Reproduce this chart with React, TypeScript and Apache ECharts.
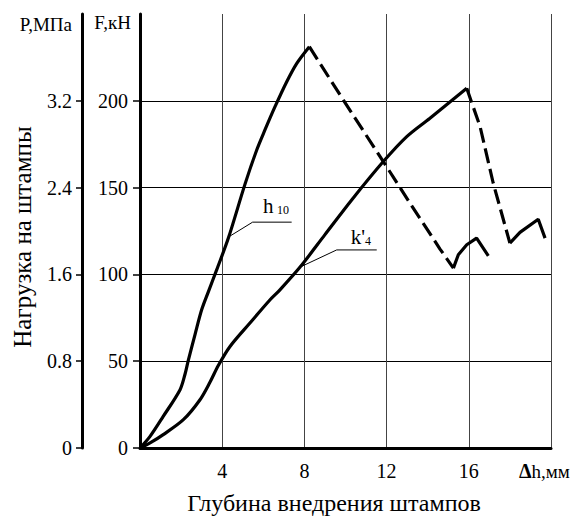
import React, { useEffect, useRef } from "react";
import * as echarts from "echarts";

// Depth, mm (x) and load F, kN (y)
const xTickLabels = [4, 8, 12, 16];
const fTickValues = [0, 50, 100, 150, 200];
const pTickValues = [0, 0.8, 1.6, 2.4, 3.2];

const h10Rise = [
  [0, 0], [0.49, 6.7], [1.13, 18.2], [1.95, 33.6], [2.19, 42.5], [2.35, 50.5],
  [2.68, 65.5], [3.0, 79.6], [3.32, 89.8], [3.73, 102.6], [4.3, 120.9],
  [5.11, 152.0], [5.68, 171.7], [6.08, 183.2], [6.57, 196.6], [7.14, 211.0],
  [7.63, 221.6], [8.24, 231.2],
];
const h10Fall = [[8.24, 231.2], [9.89, 200.5], [11.84, 165.0], [13.14, 141.0], [14.6, 114.6], [15.25, 103.6]];
const h10Tail = [[15.25, 103.6], [15.49, 111.3], [15.9, 117.1], [16.38, 120.9], [16.95, 110.7]];

const k4Rise = [
  [0, 0], [0.49, 2.9], [1.13, 7.7], [2.11, 16.3], [2.92, 27.8], [3.41, 38.0],
  [3.81, 47.5], [4.38, 58.5], [5.35, 72.0], [6.33, 85.4], [6.81, 91.1],
  [7.79, 104.2], [9.0, 122.9], [10.3, 142.9], [11.84, 165.0], [12.98, 179.4],
  [14.11, 190.0], [15.9, 207.2],
];
const k4Fall = [[15.9, 207.2], [16.55, 185.1], [17.19, 152.5], [18.0, 118.0]];
const k4Tail = [[18.0, 118.0], [18.49, 124.2], [19.38, 131.8], [19.71, 120.9]];

// Curve annotations (data units)
const h10Leader = [[4.3, 121.5], [5.48, 130.1], [7.38, 130.1]];
const h10LabelAt = [5.99, 139.5];
const k4Leader = [[7.79, 104.2], [9.57, 114.1], [11.52, 114.1]];
const k4LabelAt = [10.25, 121.6];

const FONT = "Times New Roman, Liberation Serif, DejaVu Serif, serif";

export default function App() {
  const ref = useRef<HTMLDivElement>(null);

  useEffect(() => {
    if (!ref.current) return;
    const chart = echarts.init(ref.current, undefined, { renderer: "svg" });

    const solid = { color: "#000", width: 3.2, type: "solid" as const };
    const dashed = { color: "#000", width: 3.2, type: [15, 6] as any, cap: "butt" as const };
    const mk = (name: string, data: number[][], lineStyle: any, smooth: any) => ({
      name,
      type: "line",
      data,
      symbol: "none",
      smooth,
      silent: true,
      lineStyle,
      z: 5,
    });

    chart.setOption({
      animation: false,
      backgroundColor: "#fff",
      textStyle: { fontFamily: FONT },
      grid: { left: 140, right: 26, top: 14, bottom: 68, containLabel: false, outerBoundsMode: "none" },
      xAxis: {
        type: "value",
        min: 0,
        max: 20,
        interval: 4,
        axisLine: { show: true, onZero: false, lineStyle: { color: "#000", width: 3 } },
        axisTick: { show: false },
        axisLabel: {
          margin: 13,
          color: "#000",
          fontFamily: FONT,
          fontSize: 20,
          customValues: xTickLabels,
          formatter: (v: number) => (xTickLabels.includes(v) ? String(v) : ""),
        },
        splitLine: { show: true, lineStyle: { color: "#444", width: 1 } },
      },
      yAxis: [
        {
          type: "value",
          min: 0,
          max: 250,
          interval: 50,
          position: "left",
          axisLine: { show: true, onZero: false, lineStyle: { color: "#000", width: 3 } },
          axisTick: { show: true, inside: false, length: 7, lineStyle: { color: "#000", width: 1.5 }, customValues: fTickValues },
          axisLabel: {
            margin: 12,
            color: "#000",
            fontFamily: FONT,
            fontSize: 20,
            customValues: fTickValues,
            formatter: (v: number) => (fTickValues.includes(v) ? String(v) : ""),
          },
          splitLine: { show: true, lineStyle: { color: "#000", width: 1 } },
        },
        {
          type: "value",
          min: 0,
          max: 4,
          interval: 0.8,
          position: "left",
          offset: 58,
          axisLine: { show: true, onZero: false, lineStyle: { color: "#000", width: 3 } },
          axisTick: { show: true, inside: false, length: 6, lineStyle: { color: "#000", width: 1.5 }, customValues: pTickValues },
          axisLabel: {
            margin: 10,
            color: "#000",
            fontFamily: FONT,
            fontSize: 20,
            customValues: pTickValues,
            formatter: (v: number) => {
              const hit = pTickValues.find((t) => Math.abs(t - v) < 1e-6);
              if (hit === undefined) return "";
              return hit === 0 ? "0" : hit.toFixed(1);
            },
          },
          splitLine: { show: false },
        },
      ],
      series: [
        mk("h10 rise", h10Rise, solid, 0.3),
        mk("h10 fall", h10Fall, dashed, false),
        mk("h10 tail", h10Tail, solid, false),
        mk("k4 rise", k4Rise, solid, 0.3),
        mk("k4 fall", k4Fall, dashed, false),
        mk("k4 tail", k4Tail, solid, false),
      ],
    });

    const px = (p: number[]) => chart.convertToPixel({ seriesIndex: 0 }, p) as number[];
    const ts = (text: string, size: number, extra: any = {}) => ({
      text,
      fill: "#000",
      fontFamily: FONT,
      fontSize: size,
      ...extra,
    });

    const hL = px(h10LabelAt);
    const kL = px(k4LabelAt);
    const small = { fontFamily: FONT, fontSize: 12, fill: "#000", verticalAlign: "bottom" };
    const big = { fontFamily: FONT, fontSize: 21, fill: "#000", verticalAlign: "bottom" };

    chart.setOption({
      graphic: [
        { type: "text", x: 72, y: 24, style: ts("P,МПа", 19, { align: "right", verticalAlign: "middle" }) },
        { type: "text", x: 131, y: 22, style: ts("F,кН", 19, { align: "right", verticalAlign: "middle" }) },
        {
          type: "text", x: 22, y: 237, rotation: Math.PI / 2,
          style: ts("Нагрузка на штампы", 25, { align: "center", verticalAlign: "middle" }),
        },
        { type: "text", x: 334, y: 503, style: ts("Глубина внедрения штампов", 24, { align: "center", verticalAlign: "middle" }) },
        {
          type: "text", x: 519, y: 471,
          style: {
            text: "{d|Δ}{n|h,мм}",
            align: "left",
            verticalAlign: "middle",
            rich: {
              d: { fontFamily: FONT, fontSize: 20, fontWeight: "bold", fill: "#000", verticalAlign: "bottom" },
              n: { fontFamily: FONT, fontSize: 19, fill: "#000", verticalAlign: "bottom" },
            },
          },
        },
        { type: "polyline", shape: { points: h10Leader.map(px) }, style: { stroke: "#000", lineWidth: 1, fill: "none" }, z: 6 },
        { type: "polyline", shape: { points: k4Leader.map(px) }, style: { stroke: "#000", lineWidth: 1, fill: "none" }, z: 6 },
        {
          type: "text", x: hL[0], y: hL[1], z: 6,
          style: { text: "{a|h} {b|10}", align: "left", verticalAlign: "middle", rich: { a: big, b: small } },
        },
        {
          type: "text", x: kL[0], y: kL[1], z: 6,
          style: { text: "{a|k'}{b|4}", align: "left", verticalAlign: "middle", rich: { a: big, b: small } },
        },
      ],
    });

    return () => chart.dispose();
  }, []);

  return (
    <div
      ref={ref}
      style={{ position: "fixed", left: 0, top: 0, width: 577, height: 516, background: "#fff" }}
    />
  );
}
